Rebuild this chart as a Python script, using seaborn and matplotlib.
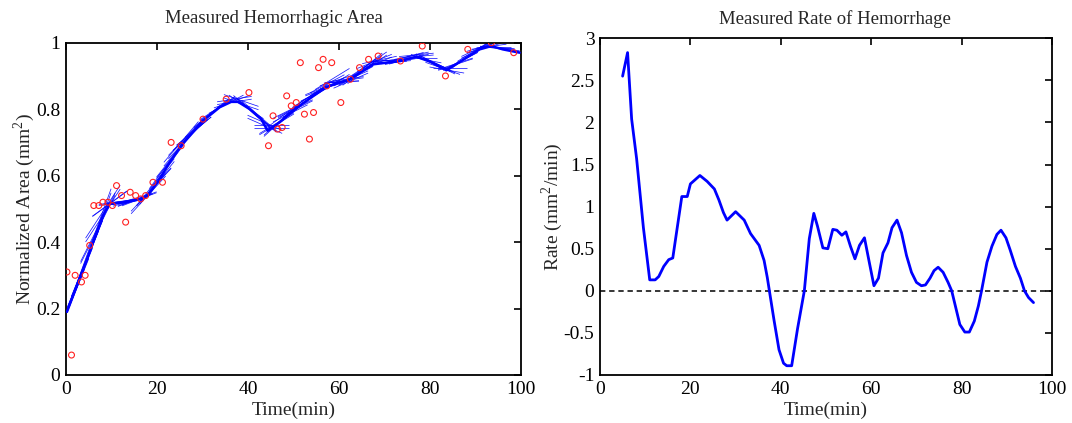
import numpy as np
import pandas as pd
import matplotlib
matplotlib.use("Agg")
import matplotlib.pyplot as plt
import seaborn as sns
from matplotlib.collections import LineCollection

# Measured hemorrhagic area (normalized) at each imaging time
area_time = [0.2, 1.2, 2.0, 3.4, 4.2, 5.2, 6.1, 7.2, 8.1, 9.2, 10.2, 11.1, 12.2, 13.1,
             14.1, 15.3, 16.4, 17.5, 19.1, 21.2, 23.1, 25.3, 30.1, 35.2, 40.2, 44.5,
             45.5, 46.5, 47.5, 48.5, 49.5, 50.6, 51.5, 52.4, 53.5, 54.4, 55.5, 56.5,
             57.3, 58.4, 60.4, 62.5, 64.5, 66.5, 68.6, 73.5, 78.3, 83.4, 88.3, 93.5, 98.4]
area_value = [0.31, 0.06, 0.30, 0.28, 0.30, 0.39, 0.51, 0.51, 0.52, 0.52, 0.51, 0.57,
              0.54, 0.46, 0.55, 0.54, 0.53, 0.54, 0.58, 0.58, 0.70, 0.69, 0.77, 0.83,
              0.85, 0.69, 0.78, 0.74, 0.745, 0.84, 0.81, 0.82, 0.94, 0.785, 0.71, 0.79,
              0.925, 0.95, 0.87, 0.94, 0.82, 0.89, 0.925, 0.95, 0.96, 0.945, 0.99, 0.90,
              0.98, 1.0, 0.97]

# Smoothed area trend
trend_time = [0.2, 4.5, 8.1, 9.6, 13.2, 16.5, 18.0, 20.6, 22.8, 25.3, 30.1, 33.8, 36.3,
              37.8, 40.4, 42.9, 44.3, 46.9, 51.3, 57.2, 62.3, 67.5, 73.5, 77.0, 80.0,
              83.6, 87.2, 90.9, 93.5, 96.0, 99.7]
trend_value = [0.19, 0.345, 0.48, 0.515, 0.52, 0.53, 0.54, 0.59, 0.64, 0.69, 0.765,
               0.806, 0.822, 0.822, 0.80, 0.77, 0.735, 0.76, 0.81, 0.867, 0.89, 0.935,
               0.945, 0.958, 0.943, 0.917, 0.948, 0.98, 0.99, 0.98, 0.97]

# Rate of hemorrhage
rate_time = [5.0, 6.1, 7.0, 8.1, 9.6, 11.0, 12.2, 13.0, 14.1, 15.2, 16.1, 18.1, 19.3,
             20.0, 22.1, 23.7, 25.3, 26.3, 27.3, 28.1, 30.0, 31.9, 33.3, 35.2, 36.3,
             37.0, 38.5, 39.6, 40.6, 41.3, 42.4, 43.7, 45.2, 46.3, 47.3, 48.1, 49.3,
             50.4, 51.5, 52.4, 53.5, 54.4, 55.4, 56.4, 57.4, 58.5, 59.6, 60.6, 61.6,
             62.6, 63.7, 64.6, 65.7, 66.7, 67.8, 68.9, 70.0, 71.1, 72.0, 73.0, 73.9,
             74.8, 75.9, 77.0, 77.8, 78.7, 79.6, 80.7, 81.7, 82.8, 83.7, 84.4, 85.6,
             86.7, 87.8, 88.7, 89.8, 90.7, 91.9, 93.0, 93.9, 94.8, 95.9]
rate_value = [2.55, 2.83, 2.04, 1.57, 0.75, 0.13, 0.13, 0.17, 0.29, 0.37, 0.39, 1.12,
              1.12, 1.27, 1.37, 1.30, 1.21, 1.08, 0.93, 0.84, 0.94, 0.84, 0.68, 0.54,
              0.36, 0.16, -0.35, -0.70, -0.86, -0.89, -0.89, -0.45, 0.0, 0.62, 0.92,
              0.77, 0.51, 0.50, 0.73, 0.72, 0.66, 0.70, 0.53, 0.38, 0.54, 0.63, 0.33,
              0.06, 0.15, 0.45, 0.57, 0.75, 0.84, 0.69, 0.42, 0.22, 0.10, 0.06, 0.07,
              0.15, 0.24, 0.28, 0.22, 0.10, 0.0, -0.20, -0.40, -0.49, -0.49, -0.36,
              -0.18, 0.0, 0.34, 0.53, 0.67, 0.72, 0.63, 0.49, 0.29, 0.15, 0.0, -0.08,
              -0.14]

# mm^2 corresponding to one normalized area unit (converts rate to trend slope)
area_scale = 75.0
# half length (min) of each local linear fit segment
half_window = 3.8

sns.set_theme(style="white")
plt.rcParams["font.family"] = ["Liberation Serif", "DejaVu Serif"]
plt.rcParams["mathtext.fontset"] = "custom"
plt.rcParams["mathtext.rm"] = "Liberation Serif"
plt.rcParams["axes.unicode_minus"] = False

fig = plt.figure(figsize=(10.72, 4.23), dpi=100)
ax1 = fig.add_axes([0.0616, 0.1135, 0.4244, 0.7855])
ax2 = fig.add_axes([0.5597, 0.1135, 0.4217, 0.796])

# ---- Left: measured area with local linear fits ----
tt = np.asarray(trend_time)
tv = np.asarray(trend_value)
at = np.asarray(area_time)
av = np.asarray(area_value)
anchors = np.unique(np.concatenate([at[at < rate_time[0]], np.asarray(rate_time)]))


def segment(t0, slope, y0):
    x_lo = max(t0 - half_window, tt[0])
    x_hi = min(t0 + half_window, 100.0)
    return [(x_lo, y0 + slope * (x_lo - t0)), (x_hi, y0 + slope * (x_hi - t0))]


segs = []
for t0 in anchors:
    slope = np.interp(t0, rate_time, rate_value) / area_scale
    # tangent through the trend
    segs.append(segment(t0, slope, np.interp(t0, tt, tv)))
    # fixed-slope fit to the measured points inside the window
    inside = np.abs(at - t0) <= half_window
    if inside.sum() >= 2:
        y_fit = np.mean(av[inside] - slope * (at[inside] - t0))
        y_fit = 0.5 * (y_fit + np.interp(t0, tt, tv))
        segs.append(segment(t0, slope, y_fit))
ax1.add_collection(LineCollection(segs, colors="#0000ff", linewidths=0.55, alpha=0.9, zorder=2))

trend_df = pd.DataFrame({"t": trend_time, "a": trend_value})
sns.lineplot(data=trend_df, x="t", y="a", ax=ax1, color="#0000ff", lw=1.8,
             estimator=None, sort=False, zorder=3)

pts = pd.DataFrame({"t": area_time, "a": area_value})
sns.scatterplot(data=pts, x="t", y="a", ax=ax1, marker="o", s=18,
                facecolor="none", edgecolor="#ff2020", linewidth=0.8, zorder=4)

ax1.set_xlim(0, 100)
ax1.set_ylim(0, 1)
ax1.set_xticks(np.arange(0, 101, 20))
ax1.set_yticks([0, 0.2, 0.4, 0.6, 0.8, 1])
ax1.set_yticklabels(["0", "0.2", "0.4", "0.6", "0.8", "1"])
ax1.set_xlabel("Time(min)", fontsize=14, labelpad=3)
ax1.set_ylabel("Normalized Area (mm$^2$)", fontsize=14, labelpad=-1)
ax1.set_title("Measured Hemorrhagic Area", fontsize=13.5, pad=14, x=0.458)

# ---- Right: rate of hemorrhage ----
rate_df = pd.DataFrame({"t": rate_time, "r": rate_value})
ax2.axhline(0, color="black", lw=1.1, ls=(0, (3.5, 2.5)), zorder=1)
sns.lineplot(data=rate_df, x="t", y="r", ax=ax2, color="#0000ff", lw=2.0,
             estimator=None, sort=False, zorder=3)
ax2.set_xlim(0, 100)
ax2.set_ylim(-1, 3)
ax2.set_xticks(np.arange(0, 101, 20))
ax2.set_yticks(np.arange(-1, 3.01, 0.5))
ax2.set_yticklabels(["-1", "-0.5", "0", "0.5", "1", "1.5", "2", "2.5", "3"])
ax2.set_xlabel("Time(min)", fontsize=14, labelpad=3)
ax2.set_ylabel("Rate (mm$^2$/min)", fontsize=14, labelpad=-1)
ax2.set_title("Measured Rate of Hemorrhage", fontsize=13.5, pad=10, x=0.52)

for ax in (ax1, ax2):
    for sp in ax.spines.values():
        sp.set_visible(True)
        sp.set_color("black")
        sp.set_linewidth(1.3)
    ax.tick_params(direction="in", length=5, width=1.2, top=True, right=True,
                   labelsize=14, colors="black", pad=4)
    ax.grid(False)
    ax.set_facecolor("white")

fig.savefig("out.png", dpi=100, facecolor="white")
